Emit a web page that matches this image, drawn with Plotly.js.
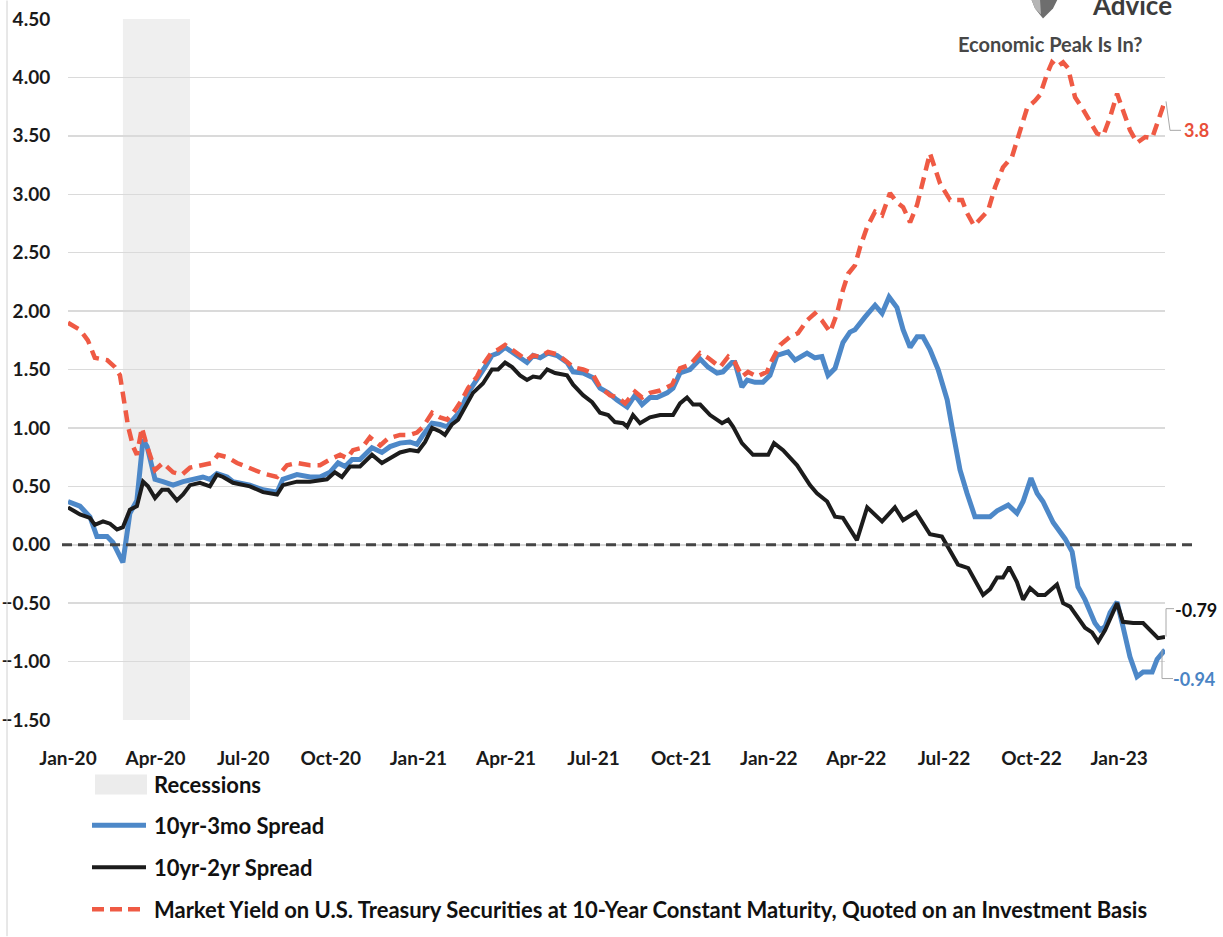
<!DOCTYPE html>
<html>
<head>
<meta charset="utf-8">
<script src="https://cdn.plot.ly/plotly-3.0.1.min.js"></script>
<style>
  html, body { margin: 0; padding: 0; background: #ffffff; }
  #chart { width: 1223px; height: 937px; }
</style>
</head>
<body>
<div id="chart"></div>
<script>
// ---------------- DATA (x = months since Jan 2020) ----------------
const tickLabels = ['Jan-20','Apr-20','Jul-20','Oct-20','Jan-21','Apr-21','Jul-21','Oct-21','Jan-22','Apr-22','Jul-22','Oct-22','Jan-23'];

const recessionStart = [1.88];
const recessionEnd = [4.18];

const months3mo = [0,0.41,0.75,0.99,1.34,1.54,1.88,2.12,2.36,2.57,2.71,2.98,3.25,3.60,3.94,4.28,4.62,4.86,5.10,5.45,5.65,6.23,6.68,7.16,7.36,7.84,8.29,8.63,8.97,9.25,9.49,9.73,10.00,10.41,10.75,11.03,11.37,11.71,11.95,12.16,12.47,12.74,12.98,13.25,13.43,13.70,14.01,14.28,14.52,14.73,14.97,15.21,15.48,15.72,15.93,16.17,16.44,16.75,17.09,17.30,17.64,17.98,18.22,18.50,18.80,19.15,19.42,19.66,19.93,20.17,20.52,20.72,20.96,21.30,21.65,21.92,22.23,22.43,22.74,22.84,23.08,23.26,23.53,23.80,24.04,24.28,24.66,24.90,25.31,25.58,25.82,26.03,26.27,26.54,26.78,26.95,27.30,27.64,27.88,28.12,28.39,28.60,28.84,29.08,29.28,29.52,29.80,30.11,30.31,30.55,30.79,31.06,31.58,31.82,32.20,32.50,32.71,32.98,33.19,33.39,33.74,34.15,34.39,34.59,34.83,35.17,35.35,35.52,35.69,35.93,36.13,36.37,36.61,36.82,37.13,37.30,37.57];
const spread3mo = [0.37,0.33,0.24,0.07,0.07,0.02,-0.15,0.27,0.38,0.90,0.84,0.56,0.54,0.51,0.54,0.56,0.58,0.56,0.61,0.58,0.54,0.51,0.47,0.45,0.56,0.60,0.58,0.58,0.62,0.70,0.67,0.73,0.73,0.83,0.79,0.84,0.87,0.88,0.86,0.94,1.04,1.03,1.01,1.09,1.14,1.30,1.41,1.52,1.62,1.64,1.69,1.65,1.60,1.56,1.62,1.60,1.64,1.62,1.56,1.48,1.47,1.43,1.34,1.30,1.24,1.18,1.28,1.20,1.26,1.26,1.30,1.34,1.47,1.50,1.59,1.52,1.47,1.48,1.56,1.56,1.35,1.41,1.39,1.39,1.45,1.62,1.65,1.58,1.64,1.60,1.61,1.45,1.51,1.73,1.82,1.84,1.95,2.05,1.98,2.12,2.03,1.84,1.69,1.78,1.78,1.67,1.50,1.24,0.96,0.64,0.44,0.24,0.24,0.29,0.34,0.27,0.37,0.57,0.44,0.37,0.19,0.05,-0.06,-0.36,-0.47,-0.67,-0.73,-0.70,-0.58,-0.49,-0.70,-0.96,-1.13,-1.09,-1.09,-0.98,-0.90];

const months2yr = [0,0.41,0.75,0.92,1.20,1.44,1.68,1.88,2.12,2.36,2.57,2.74,2.98,3.22,3.43,3.73,3.94,4.18,4.52,4.86,5.10,5.31,5.65,6.23,6.68,7.16,7.36,7.84,8.29,8.63,8.87,9.14,9.38,9.66,10.00,10.41,10.75,11.03,11.37,11.71,11.99,12.23,12.47,12.74,12.91,13.15,13.36,13.67,13.87,14.21,14.52,14.73,14.97,15.21,15.48,15.72,15.93,16.17,16.41,16.68,17.09,17.30,17.64,17.95,18.22,18.50,18.73,19.01,19.15,19.35,19.59,19.93,20.28,20.72,20.96,21.20,21.41,21.65,21.99,22.40,22.61,22.78,23.08,23.46,23.98,24.18,24.49,24.97,25.41,25.65,26.00,26.27,26.54,27.02,27.37,27.88,28.32,28.60,29.04,29.52,29.93,30.48,30.83,31.34,31.58,31.82,32.02,32.23,32.50,32.71,32.95,33.22,33.46,33.87,34.08,34.32,34.56,34.83,35.07,35.28,35.52,35.93,36.13,36.48,36.82,37.06,37.33,37.57];
const spread2yr = [0.32,0.26,0.23,0.17,0.20,0.18,0.13,0.15,0.30,0.33,0.54,0.50,0.40,0.47,0.47,0.38,0.43,0.51,0.53,0.50,0.60,0.58,0.53,0.50,0.45,0.43,0.51,0.54,0.54,0.55,0.56,0.62,0.58,0.67,0.67,0.77,0.70,0.74,0.79,0.81,0.80,0.88,1.00,0.97,0.94,1.03,1.07,1.21,1.30,1.38,1.50,1.50,1.56,1.52,1.45,1.41,1.44,1.43,1.50,1.47,1.45,1.37,1.28,1.22,1.13,1.11,1.05,1.04,1.01,1.11,1.04,1.09,1.11,1.11,1.21,1.26,1.20,1.20,1.11,1.04,1.07,1.01,0.87,0.77,0.77,0.87,0.81,0.68,0.51,0.44,0.37,0.24,0.23,0.04,0.32,0.20,0.32,0.21,0.28,0.09,0.07,-0.17,-0.20,-0.43,-0.38,-0.28,-0.28,-0.19,-0.32,-0.47,-0.37,-0.43,-0.43,-0.34,-0.50,-0.53,-0.62,-0.71,-0.75,-0.83,-0.73,-0.50,-0.66,-0.67,-0.67,-0.73,-0.80,-0.79];

const monthsYield = [0,0.41,0.68,0.92,1.34,1.61,1.78,1.88,2.06,2.23,2.36,2.53,2.71,2.98,3.25,3.60,3.90,4.18,4.62,4.93,5.14,5.45,5.79,6.23,6.68,7.16,7.50,7.84,8.29,8.63,8.97,9.32,9.56,9.76,10.07,10.34,10.69,10.96,11.37,11.71,11.95,12.16,12.47,12.74,12.98,13.25,13.49,13.70,14.01,14.21,14.52,14.73,14.97,15.21,15.48,15.72,15.93,16.17,16.44,16.75,17.02,17.30,17.64,17.95,18.22,18.56,18.84,19.08,19.42,19.66,19.93,20.28,20.69,20.96,21.30,21.65,21.92,22.33,22.61,22.84,23.08,23.29,23.60,23.94,24.11,24.39,24.73,25.00,25.31,25.58,25.82,26.10,26.34,26.54,26.72,26.95,27.13,27.37,27.64,27.88,28.15,28.39,28.60,28.84,29.08,29.28,29.52,29.87,30.21,30.62,30.79,31.03,31.30,31.51,31.75,32.02,32.33,32.54,32.85,33.12,33.29,33.53,33.70,33.87,34.08,34.25,34.49,34.73,35.00,35.24,35.45,35.69,35.93,36.13,36.37,36.61,36.89,37.13,37.30,37.57];
const yield10 = [1.90,1.84,1.75,1.60,1.58,1.52,1.45,1.30,1.01,0.84,0.77,1.00,0.84,0.64,0.70,0.62,0.60,0.66,0.68,0.70,0.77,0.75,0.70,0.66,0.61,0.58,0.68,0.70,0.68,0.68,0.73,0.77,0.74,0.81,0.83,0.92,0.85,0.91,0.94,0.94,0.96,1.01,1.13,1.09,1.07,1.15,1.24,1.34,1.44,1.54,1.65,1.67,1.71,1.67,1.62,1.58,1.62,1.61,1.65,1.63,1.58,1.52,1.50,1.47,1.35,1.28,1.26,1.21,1.31,1.26,1.30,1.32,1.37,1.51,1.54,1.64,1.60,1.52,1.61,1.56,1.44,1.48,1.44,1.48,1.58,1.71,1.78,1.81,1.92,1.98,1.92,1.82,1.98,2.18,2.32,2.39,2.55,2.72,2.85,2.82,3.01,2.93,2.89,2.76,2.91,3.10,3.35,3.09,2.95,2.95,2.84,2.73,2.80,2.86,3.06,3.23,3.32,3.49,3.74,3.80,3.85,4.03,4.13,4.09,4.13,4.08,3.83,3.74,3.63,3.52,3.50,3.66,3.86,3.72,3.55,3.44,3.49,3.48,3.61,3.80];

const seriesNames = ['Recessions','10yr-3mo Spread','10yr-2yr Spread','Market Yield on U.S. Treasury Securities at 10-Year Constant Maturity, Quoted on an Investment Basis'];
const endLabels = ['3.8','-0.79','-0.94'];
const chartTitle = 'Economic Peak Is In?';
const brandText = 'Advice';

// ---------------- STYLE ----------------
const FONT = 'Lato, Liberation Sans, sans-serif';
const BLUE = '#4d88c8', BLACK = '#1c1c1c', RED = '#ef5a44', GRID = '#dadada';

// pixel helpers for decorations (plot area: x 68..1165, y 18.5..720.5)
const L = 68, R = 1165, T = 18.5, B = 720.5;
const px = x => (x - L) / (R - L);
const py = y => (B - y) / (B - T);

const traces = [
  {x: months3mo, y: spread3mo, type: 'scatter', mode: 'lines', name: seriesNames[1],
   line: {color: BLUE, width: 5, shape: 'linear'}},
  {x: months2yr, y: spread2yr, type: 'scatter', mode: 'lines', name: seriesNames[2],
   line: {color: BLACK, width: 4}},
  {x: monthsYield, y: yield10, type: 'scatter', mode: 'lines', name: seriesNames[3],
   line: {color: RED, width: 4.5, dash: '12px,7px'}}
];

const shapes = [];
// recession shading
recessionStart.forEach((s, i) => {
  shapes.push({type: 'rect', xref: 'x', yref: 'paper', x0: s, x1: recessionEnd[i], y0: 0, y1: 1,
    fillcolor: '#efefef', line: {width: 0}, layer: 'below'});
});
// zero dashed reference line
shapes.push({type: 'line', xref: 'paper', yref: 'paper', x0: px(62), x1: px(1194), y0: py(545), y1: py(545),
  line: {color: '#454545', width: 3, dash: '10px,6px'}});
// left border
shapes.push({type: 'line', xref: 'paper', yref: 'paper', x0: px(7), x1: px(7), y0: py(0), y1: py(937),
  line: {color: '#d0d0d0', width: 1}});
// leader lines for end labels
const leader = pts => 'M' + pts.map(p => px(p[0]) + ',' + py(p[1])).join(' L');
shapes.push({type: 'path', xref: 'paper', yref: 'paper', path: leader([[1166,101],[1170,130],[1181,130]]),
  line: {color: '#a8a8a8', width: 1}});
shapes.push({type: 'path', xref: 'paper', yref: 'paper', path: leader([[1166,637],[1166,609],[1174,609]]),
  line: {color: '#a8a8a8', width: 1}});
shapes.push({type: 'path', xref: 'paper', yref: 'paper', path: leader([[1162,650],[1162,679],[1173,679]]),
  line: {color: '#a8a8a8', width: 1}});
// logo fragment
shapes.push({type: 'path', xref: 'paper', yref: 'paper',
  path: leader([[1031,-2],[1058,-2],[1053,8],[1043,18],[1035,8]]) + ' Z',
  fillcolor: '#6e6e6e', line: {width: 0}});
shapes.push({type: 'path', xref: 'paper', yref: 'paper',
  path: leader([[1031,-2],[1040,-2],[1041,14],[1035,8]]) + ' Z',
  fillcolor: '#b5b5b5', line: {width: 0}});
// legend swatches
shapes.push({type: 'rect', xref: 'paper', yref: 'paper', x0: px(95), x1: px(147), y0: py(795), y1: py(775),
  fillcolor: '#ececec', line: {width: 0}});
shapes.push({type: 'line', xref: 'paper', yref: 'paper', x0: px(92), x1: px(146), y0: py(826), y1: py(826),
  line: {color: BLUE, width: 5}});
shapes.push({type: 'line', xref: 'paper', yref: 'paper', x0: px(92), x1: px(146), y0: py(868), y1: py(868),
  line: {color: BLACK, width: 4}});
shapes.push({type: 'line', xref: 'paper', yref: 'paper', x0: px(92), x1: px(144), y0: py(910), y1: py(910),
  line: {color: RED, width: 4.5, dash: '12px,6px'}});

const ann = (text, x, y, opts) => Object.assign({text, xref: 'paper', yref: 'paper', x: px(x), y: py(y),
  showarrow: false, xanchor: 'center', yanchor: 'middle',
  font: {family: FONT, size: 22, color: '#111111', weight: 'bold'}}, opts || {});

const annotations = [
  ann(chartTitle, 1050, 44, {font: {family: FONT, size: 20, color: '#474747', weight: 'bold'}}),
  ann(brandText, 1090, 4, {xanchor: 'left', font: {family: FONT, size: 26, color: '#3c3c3c', weight: 'bold'}}),
  ann(endLabels[0], 1196, 130, {font: {family: FONT, size: 18, color: '#e8503a', weight: 'bold'}}),
  ann(endLabels[1], 1196, 610, {font: {family: FONT, size: 18, color: '#111111', weight: 'bold'}}),
  ann(endLabels[2], 1194, 679, {font: {family: FONT, size: 18, color: '#4a84c4', weight: 'bold'}}),
  ann(seriesNames[0], 152, 785, {xanchor: 'left'}),
  ann(seriesNames[1], 152, 826, {xanchor: 'left'}),
  ann(seriesNames[2], 152, 868, {xanchor: 'left'}),
  ann(seriesNames[3], 152, 910, {xanchor: 'left'})
];

const layout = {
  width: 1223, height: 937,
  margin: {l: L, r: 1223 - R, t: T, b: 937 - B, pad: 0},
  paper_bgcolor: '#ffffff', plot_bgcolor: '#ffffff',
  showlegend: false,
  font: {family: FONT, color: '#111111'},
  xaxis: {
    range: [0, months3mo[months3mo.length - 1]],
    tickvals: tickLabels.map((_, i) => i * 3),
    ticktext: tickLabels,
    showgrid: false, zeroline: false, showline: false,
    ticks: 'outside', ticklen: 21, tickcolor: 'rgba(0,0,0,0)',
    tickfont: {family: FONT, size: 19, color: '#1a1a1a', weight: 'bold'},
    fixedrange: true
  },
  yaxis: {
    range: [-1.5, 4.5], dtick: 0.5, tick0: 0, tickformat: '.2f',
    showgrid: true, gridcolor: GRID, gridwidth: 1.5,
    zeroline: false, showline: false,
    ticks: 'outside', ticklen: 13, tickcolor: 'rgba(0,0,0,0)',
    tickfont: {family: FONT, size: 19, color: '#1a1a1a', weight: 'bold'},
    fixedrange: true
  },
  shapes, annotations
};

Plotly.newPlot('chart', traces, layout, {displayModeBar: false, staticPlot: true});
</script>
</body>
</html>
